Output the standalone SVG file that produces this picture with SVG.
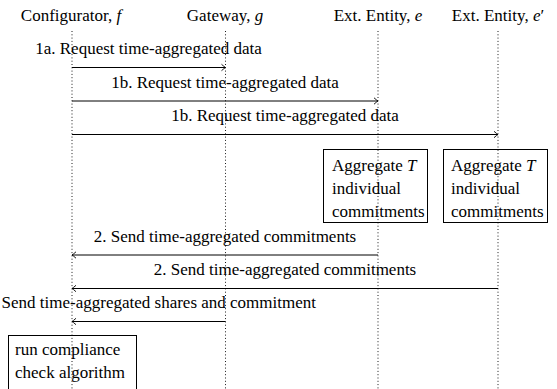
<svg xmlns="http://www.w3.org/2000/svg" width="557" height="389" viewBox="0 0 557 389">
<defs>
<marker id="ah" markerUnits="userSpaceOnUse" markerWidth="10" markerHeight="10" refX="0" refY="0" viewBox="-5 -5 10 10" orient="auto">
<path d="M-4,-3.2 Q-1.2,-0.7 0,0 Q-1.2,0.7 -4,3.2" fill="none" stroke="#000" stroke-width="0.9"/>
</marker>
</defs>
<style>
text{fill:#000;font-family:"Liberation Serif",serif;font-size:17px}
.m{font-style:italic}
.c{text-anchor:middle}
.life{stroke:#000;stroke-width:0.9;stroke-dasharray:1 2.3;fill:none}
.msg{stroke:#000;stroke-width:1;fill:none;marker-end:url(#ah)}
.box{fill:none;stroke:#000;stroke-width:1}
</style>
<rect width="557" height="389" fill="#fff"/>
<g id="configurator">
<text class="c" x="71" y="21">Configurator, <tspan class="m">f</tspan></text>
<line class="life" x1="72" y1="31" x2="72" y2="389"/>
</g>
<g id="gateway">
<text class="c" x="225" y="21">Gateway, <tspan class="m">g</tspan></text>
<line class="life" x1="225.5" y1="31" x2="225.5" y2="389"/>
</g>
<g id="entity-e">
<text class="c" x="378" y="21">Ext. Entity, <tspan class="m">e</tspan></text>
<line class="life" x1="378" y1="31" x2="378" y2="389"/>
</g>
<g id="entity-e2">
<text class="c" x="498" y="21">Ext. Entity, <tspan class="m">e</tspan>′</text>
<line class="life" x1="498" y1="31" x2="498" y2="389"/>
</g>
<g id="aggregate-e">
<rect class="box" x="323.5" y="149.5" width="104" height="73"/>
<text x="332" y="170.5">Aggregate <tspan class="m">T</tspan></text>
<text x="332" y="194">individual</text>
<text x="332" y="217.3">commitments</text>
</g>
<g id="aggregate-e2">
<rect class="box" x="443.5" y="149.5" width="104" height="73"/>
<text x="451" y="170.5">Aggregate <tspan class="m">T</tspan></text>
<text x="451" y="194">individual</text>
<text x="451" y="217.3">commitments</text>
</g>
<g id="compliance">
<rect class="box" x="8.5" y="335.5" width="128" height="60"/>
<text x="15" y="355">run compliance</text>
<text x="15" y="378.3">check algorithm</text>
</g>
<g id="connectors">
<line class="msg" x1="72" y1="67.5" x2="225.5" y2="67.5"/>
<text class="c" x="148.5" y="54">1a. Request time-aggregated data</text>
<line class="msg" x1="72" y1="101" x2="378" y2="101"/>
<text class="c" x="225" y="87.5">1b. Request time-aggregated data</text>
<line class="msg" x1="72" y1="134.5" x2="498" y2="134.5"/>
<text class="c" x="285" y="121">1b. Request time-aggregated data</text>
<line class="msg" x1="378" y1="255" x2="72" y2="255"/>
<text class="c" x="225" y="241.5">2. Send time-aggregated commitments</text>
<line class="msg" x1="498" y1="288.5" x2="72" y2="288.5"/>
<text class="c" x="285" y="275">2. Send time-aggregated commitments</text>
<line class="msg" x1="225.5" y1="321.5" x2="72" y2="321.5"/>
<text x="316" y="308" text-anchor="end">Send time-aggregated shares and commitment</text>
</g>
</svg>
